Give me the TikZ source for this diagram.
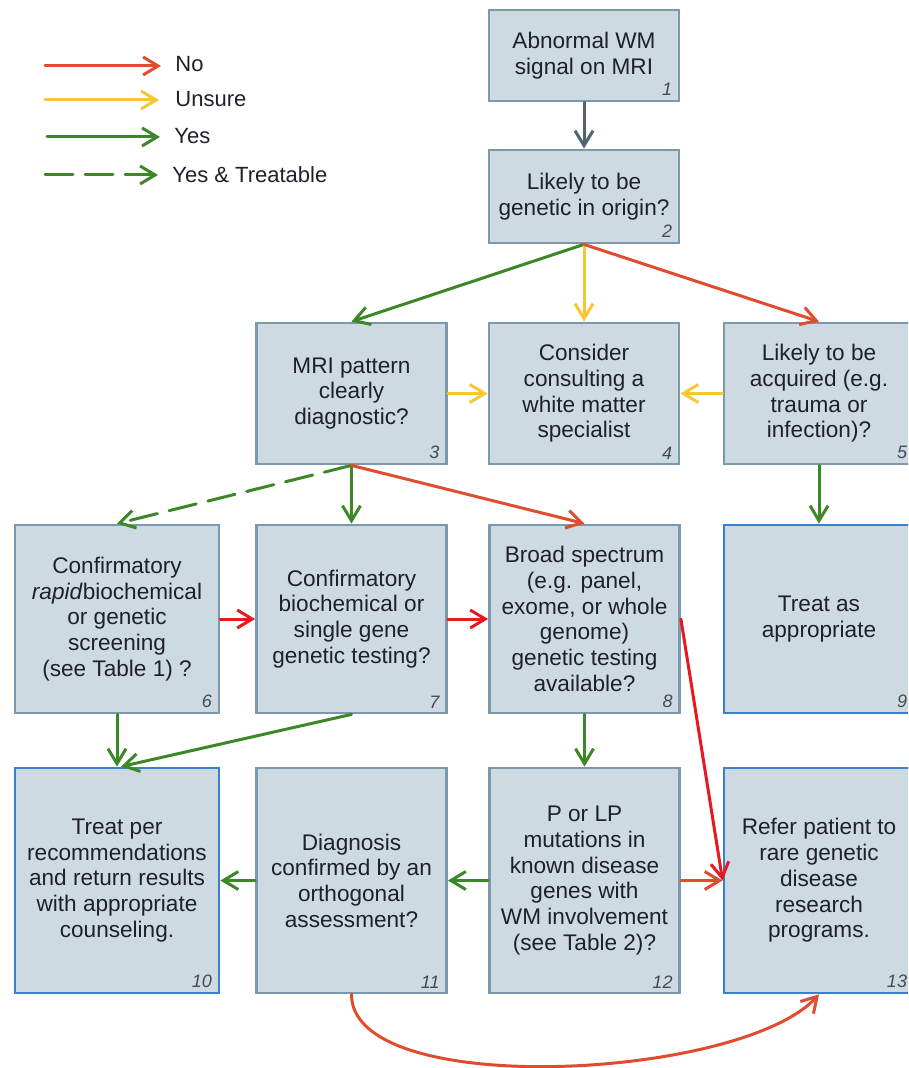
\documentclass[tikz,border=0pt]{standalone}
\usepackage{fontspec}
\setmainfont{Liberation Sans}
\usetikzlibrary{arrows.meta, calc}

\definecolor{boxfill}{RGB}{206,218,226}
\definecolor{boxline}{RGB}{124,152,172}
\definecolor{endline}{RGB}{58,128,210}
\definecolor{startcol}{RGB}{80,100,115}
\definecolor{noorange}{RGB}{226,76,46}
\definecolor{nored}{RGB}{230,24,32}
\definecolor{unsurecol}{RGB}{246,198,52}
\definecolor{yescol}{RGB}{60,136,40}
\definecolor{numcol}{RGB}{70,72,82}
\definecolor{txtcol}{RGB}{30,32,44}

\tikzset{
	box/.style={draw=boxline, fill=boxfill, line width=1.4pt, minimum width=95pt,
		align=center, text=txtcol, font=\fontsize{11.3}{12.85}\selectfont},
	endbox/.style={box, draw=endline},
	numlbl/.style={anchor=south east, inner sep=0pt, text=numcol,
		font=\fontsize{9}{10}\selectfont\itshape},
	lgtext/.style={anchor=west, inner sep=0pt, text=txtcol,
		font=\fontsize{11}{13}\selectfont},
	flow/.style={line width=1.5pt, -{Straight Barb[length=7.5pt, width=9pt]}},
	start/.style={flow, startcol},
	no/.style={flow, noorange},
	nohard/.style={flow, nored},
	unsure/.style={flow, unsurecol},
	yes/.style={flow, yescol},
	treat/.style={flow, yescol, dash pattern=on 14pt off 6pt},
}

\begin{document}
\begin{tikzpicture}[x=0.5pt, y=-0.5pt, line cap=round]
%	\draw (0,0) grid (908,1068);
	\useasboundingbox (0,0) rectangle (908,1068);
	\clip (0,0) rectangle (908,1068);

	% legend
	\coordinate (lgno) at (45,66);
	\coordinate (lgunsure) at (45,100);
	\coordinate (lgyes) at (47,137);
	\coordinate (lgtreat) at (45,175);
	\node[lgtext] (lblno) at (175,64) {No};
	\node[lgtext] (lblunsure) at (175,99) {Unsure};
	\node[lgtext] (lblyes) at (174,136) {Yes};
	\node[lgtext] (lbltreat) at (172,175) {Yes \& Treatable};

	% boxes
	\node[box, minimum height=45.5pt] (n1) at (584,55.5) {Abnormal WM\\signal on MRI};
	\node[box, minimum height=46.5pt] (n2) at (584,196.5) {Likely to be\\genetic in origin?};

	\node[box, minimum height=70.5pt] (n3) at (351.5,393.5) {MRI pattern\\clearly\\diagnostic?};
	\node[box, minimum height=70.5pt] (n4) at (584,393.5) {Consider\\consulting a\\white matter\\specialist};
	\node[box, minimum height=70.5pt] (n5) at (819,393.5) {Likely to be\\acquired (e.g.\\trauma or\\infection)?};

	\node[box, minimum height=94pt, minimum width=102pt] (n6) at (117,619) {Confirmatory\\\textit{rapid}biochemical\\or genetic\\screening\\(see Table 1) ?};
	\node[box, minimum height=94pt] (n7) at (351.5,619) {Confirmatory\\biochemical or\\single gene\\genetic testing?};
	\node[box, minimum height=94pt] (n8) at (584.5,619) {Broad spectrum\\(e.g. panel,\\exome, or whole\\genome)\\genetic testing\\available?};
	\node[endbox, minimum height=94pt] (n9) at (819,619) {Treat as\\appropriate};

	\node[endbox, minimum height=112.5pt, minimum width=102pt] (n10) at (117,880.5) {Treat per\\recommendations\\and return results\\with appropriate\\counseling.};
	\node[box, minimum height=112.5pt] (n11) at (351.5,880.5) {Diagnosis\\confirmed by an\\orthogonal\\assessment?};
	\node[box, minimum height=112.5pt] (n12) at (584.5,880.5) {P or LP\\mutations in\\known disease\\genes with\\WM involvement\\(see Table 2)?};
	\node[endbox, minimum height=112.5pt] (n13) at (819,880.5) {Refer patient to\\rare genetic\\disease\\research\\programs.};

	% box numbers
	\node[numlbl] (k1) at ([xshift=-4pt, yshift=3pt]n1.south east) {1};
	\node[numlbl] (k2) at ([xshift=-4pt, yshift=3pt]n2.south east) {2};
	\node[numlbl] (k3) at ([xshift=-4pt, yshift=3pt]n3.south east) {3};
	\node[numlbl] (k4) at ([xshift=-4pt, yshift=3pt]n4.south east) {4};
	\node[numlbl] (k5) at ([xshift=-4pt, yshift=3pt]n5.south east) {5};
	\node[numlbl] (k6) at ([xshift=-4pt, yshift=3pt]n6.south east) {6};
	\node[numlbl] (k7) at ([xshift=-4pt, yshift=3pt]n7.south east) {7};
	\node[numlbl] (k8) at ([xshift=-4pt, yshift=3pt]n8.south east) {8};
	\node[numlbl] (k9) at ([xshift=-4pt, yshift=3pt]n9.south east) {9};
	\node[numlbl] (k10) at ([xshift=-4pt, yshift=3pt]n10.south east) {10};
	\node[numlbl] (k11) at ([xshift=-4pt, yshift=3pt]n11.south east) {11};
	\node[numlbl] (k12) at ([xshift=-4pt, yshift=3pt]n12.south east) {12};
	\node[numlbl] (k13) at ([xshift=-4pt, yshift=3pt]n13.south east) {13};

	% legend arrows
	\draw[no, shorten >=7pt] (lgno) -- (lgno -| lblno.west);
	\draw[unsure, shorten >=8pt] (lgunsure) -- (lgunsure -| lblunsure.west);
	\draw[yes, shorten >=7pt] (lgyes) -- (lgyes -| lblyes.west);
	\draw[treat, shorten >=7pt] (lgtreat) -- (lgtreat -| lbltreat.west);

	% flow
	\draw[start] (n1) -- (n2);
	\draw[yes] (n2.south) -- (n3.north);
	\draw[unsure] (n2.south) -- (n4.north);
	\draw[no] (n2.south) -- (n5.north);
	\draw[unsure] (n3) -- (n4);
	\draw[unsure] (n5) -- (n4);
	\draw[yes] (n5) -- (n9);
	\draw[treat] (n3.south) -- (n6.north);
	\draw[yes] (n3.south) -- (n7.north);
	\draw[no] (n3.south) -- (n8.north);
	\draw[nohard] (n6) -- (n7);
	\draw[nohard] (n7) -- (n8);
	\draw[nohard] (n8.east) -- (n13.west);
	\draw[yes] (n8) -- (n12);
	\draw[yes] (n6) -- (n10);
	\draw[yes] (n7.south) -- ([xshift=2pt]n10.north);
	\draw[yes] (n11) -- (n10);
	\draw[yes] (n12) -- (n11);
	\draw[no] (n12) -- (n13);
	\draw[no] (n11.south) .. controls (351,1100) and (740,1080) .. (n13.south);
\end{tikzpicture}
\end{document}
